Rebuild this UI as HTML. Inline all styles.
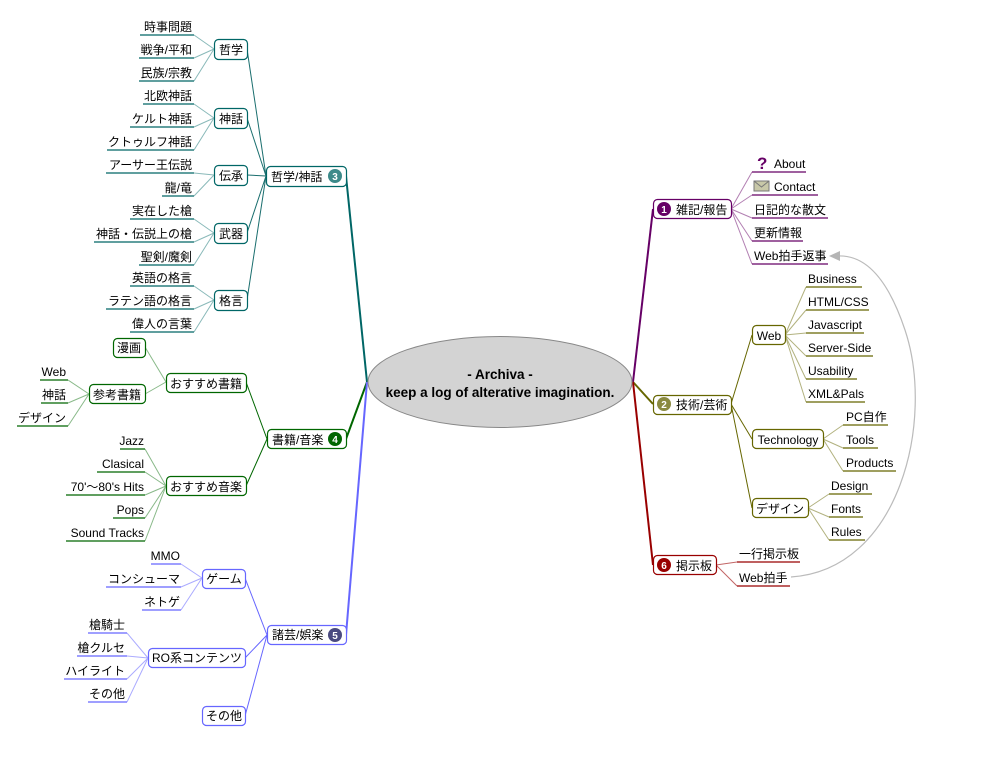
<!DOCTYPE html>
<html><head><meta charset="utf-8"><style>
html,body{margin:0;padding:0;background:#fff;}
svg{display:block;}
text{font-family:"Liberation Sans","Noto Sans CJK JP",sans-serif;font-size:12px;fill:#000;}
</style></head><body>
<svg width="999" height="764" viewBox="0 0 999 764" xmlns="http://www.w3.org/2000/svg">
<g fill="none" stroke-width="2">
<path d="M346 176 L367 382" stroke="#006666"/>
<path d="M346 439 L367 382" stroke="#006600"/>
<path d="M346 635 L367 382" stroke="#6666ff"/>
<path d="M653 209 L633 382" stroke="#660066"/>
<path d="M653 404 L633 382" stroke="#666600"/>
<path d="M653 565 L633 382" stroke="#990000"/>
</g>
<g stroke="#1a6e6e" stroke-width="1" fill="none">
<path d="M266 176 L247 49 M266 176 L247 118 M266 176 L247 175 M266 176 L247 233 M266 176 L247 300"/>
</g>
<g stroke="#2a8080" stroke-width="1" fill="none" opacity="0.55">
<path d="M214 49 L194 35 M214 49 L194 58 M214 49 L194 81"/>
<path d="M214 118 L194 104 M214 118 L194 127 M214 118 L194 150"/>
<path d="M214 175 L194 173 M214 175 L194 196"/>
<path d="M214 233 L194 219 M214 233 L194 242 M214 233 L194 265"/>
<path d="M214 300 L194 286 M214 300 L194 309 M214 300 L194 332"/>
</g>
<g stroke="#006666" stroke-width="1.3">
<line x1="140" y1="35" x2="194" y2="35"/><line x1="139" y1="58" x2="194" y2="58"/><line x1="139" y1="81" x2="194" y2="81"/>
<line x1="143" y1="104" x2="194" y2="104"/><line x1="130" y1="127" x2="194" y2="127"/><line x1="107" y1="150" x2="194" y2="150"/>
<line x1="106" y1="173" x2="194" y2="173"/><line x1="162" y1="196" x2="194" y2="196"/>
<line x1="130" y1="219" x2="194" y2="219"/><line x1="94" y1="242" x2="194" y2="242"/><line x1="139" y1="265" x2="194" y2="265"/>
<line x1="130" y1="286" x2="194" y2="286"/><line x1="106" y1="309" x2="194" y2="309"/><line x1="130" y1="332" x2="194" y2="332"/>
</g>
<g text-anchor="end">
<text x="192" y="31">時事問題</text><text x="192" y="54">戦争/平和</text><text x="192" y="77">民族/宗教</text>
<text x="192" y="100">北欧神話</text><text x="192" y="123">ケルト神話</text><text x="192" y="146">クトゥルフ神話</text>
<text x="192" y="169">アーサー王伝説</text><text x="192" y="192">龍/竜</text>
<text x="192" y="215">実在した槍</text><text x="192" y="238">神話・伝説上の槍</text><text x="192" y="261">聖剣/魔剣</text>
<text x="192" y="282">英語の格言</text><text x="192" y="305">ラテン語の格言</text><text x="192" y="328">偉人の言葉</text>
</g>
<g fill="#fff" stroke="#006666" stroke-width="1.2">
<rect x="214.5" y="39.5" width="33" height="20" rx="4"/>
<rect x="214.5" y="108.5" width="33" height="20" rx="4"/>
<rect x="214.5" y="165.5" width="33" height="20" rx="4"/>
<rect x="214.5" y="223.5" width="33" height="20" rx="4"/>
<rect x="214.5" y="290.5" width="33" height="20" rx="4"/>
<rect x="266.5" y="166.5" width="80" height="20" rx="4"/>
</g>
<g text-anchor="middle">
<text x="231" y="54">哲学</text><text x="231" y="123">神話</text><text x="231" y="180">伝承</text><text x="231" y="238">武器</text><text x="231" y="305">格言</text>
</g>
<text x="271" y="181">哲学/神話</text>
<circle cx="335" cy="176" r="7" fill="#3d8a8a"/><text x="335" y="180" text-anchor="middle" style="font-size:10px;font-weight:bold;fill:#fff">3</text>

<g stroke="#006600" stroke-width="1" fill="none">
<path d="M267 439 L246 382 M267 439 L246 486"/>
</g>
<g stroke="#3a8a3a" stroke-width="1" fill="none" opacity="0.6">
<path d="M166 382 L145 347 M166 382 L145 394"/>
<path d="M89 394 L68 380 M89 394 L68 403 M89 394 L68 426"/>
<path d="M166 486 L145 449 M166 486 L145 472 M166 486 L145 495 M166 486 L145 518 M166 486 L145 541"/>
</g>
<g stroke="#006600" stroke-width="1.3">
<line x1="40" y1="380" x2="68" y2="380"/><line x1="41" y1="403" x2="68" y2="403"/><line x1="17" y1="426" x2="68" y2="426"/>
<line x1="120" y1="449" x2="145" y2="449"/><line x1="97" y1="472" x2="145" y2="472"/><line x1="66" y1="495" x2="145" y2="495"/><line x1="113" y1="518" x2="145" y2="518"/><line x1="66" y1="541" x2="145" y2="541"/>
</g>
<g text-anchor="end">
<text x="66" y="376">Web</text><text x="66" y="399">神話</text><text x="66" y="422">デザイン</text>
<text x="144" y="445">Jazz</text><text x="144" y="468">Clasical</text><text x="144" y="491">70'〜80's Hits</text><text x="144" y="514">Pops</text><text x="144" y="537">Sound Tracks</text>
</g>
<g fill="#fff" stroke="#006600" stroke-width="1.2">
<rect x="113.5" y="338.5" width="32" height="19" rx="4"/>
<rect x="89.5" y="384.5" width="56" height="19" rx="4"/>
<rect x="166.5" y="373.5" width="80" height="19" rx="4"/>
<rect x="166.5" y="476.5" width="80" height="19" rx="4"/>
<rect x="267.5" y="429.5" width="79" height="19" rx="4"/>
</g>
<text x="129" y="352" text-anchor="middle">漫画</text>
<text x="117" y="399" text-anchor="middle">参考書籍</text>
<text x="206" y="388" text-anchor="middle">おすすめ書籍</text>
<text x="206" y="491" text-anchor="middle">おすすめ音楽</text>
<text x="272" y="444">書籍/音楽</text>
<circle cx="335" cy="439" r="7" fill="#006600"/><text x="335" y="443" text-anchor="middle" style="font-size:10px;font-weight:bold;fill:#fff">4</text>

<g stroke="#6666ff" stroke-width="1" fill="none">
<path d="M267 635 L245 578 M267 635 L245 658 M267 635 L245 716"/>
</g>
<g stroke="#6666ff" stroke-width="1" fill="none" opacity="0.55">
<path d="M202 578 L181 564 M202 578 L181 587 M202 578 L181 610"/>
<path d="M148 658 L127 633 M148 658 L127 656 M148 658 L127 679 M148 658 L127 702"/>
</g>
<g stroke="#6666ff" stroke-width="1.3">
<line x1="151" y1="564" x2="181" y2="564"/><line x1="106" y1="587" x2="181" y2="587"/><line x1="142" y1="610" x2="181" y2="610"/>
<line x1="88" y1="633" x2="127" y2="633"/><line x1="77" y1="656" x2="127" y2="656"/><line x1="64" y1="679" x2="127" y2="679"/><line x1="88" y1="702" x2="127" y2="702"/>
</g>
<g text-anchor="end">
<text x="180" y="560">MMO</text><text x="180" y="583">コンシューマ</text><text x="180" y="606">ネトゲ</text>
<text x="125" y="629">槍騎士</text><text x="125" y="652">槍クルセ</text><text x="125" y="675">ハイライト</text><text x="125" y="698">その他</text>
</g>
<g fill="#fff" stroke="#6666ff" stroke-width="1.2">
<rect x="202.5" y="569.5" width="43" height="19" rx="4"/>
<rect x="148.5" y="648.5" width="97" height="19" rx="4"/>
<rect x="202.5" y="706.5" width="43" height="19" rx="4"/>
<rect x="267.5" y="625.5" width="79" height="19" rx="4"/>
</g>
<text x="224" y="583" text-anchor="middle">ゲーム</text>
<text x="197" y="662" text-anchor="middle">RO系コンテンツ</text>
<text x="224" y="720" text-anchor="middle">その他</text>
<text x="272" y="639">諸芸/娯楽</text>
<circle cx="335" cy="635" r="7" fill="#4a4a80"/><text x="335" y="639" text-anchor="middle" style="font-size:10px;font-weight:bold;fill:#fff">5</text>

<ellipse cx="500" cy="382" rx="132" ry="45.5" fill="#d3d3d3" stroke="#888" stroke-width="1"/>
<text x="500" y="379" text-anchor="middle" style="font-weight:bold;font-size:13.5px">- Archiva -</text>
<text x="500" y="397" text-anchor="middle" style="font-weight:bold;font-size:13.5px">keep a log of alterative imagination.</text>

<g stroke="#660066" stroke-width="1" fill="none" opacity="0.5">
<path d="M731 209 L752 172 M731 209 L752 195 M731 209 L752 218 M731 209 L752 241 M731 209 L752 264"/>
</g>
<g stroke="#660066" stroke-width="1.3">
<line x1="752" y1="172" x2="806" y2="172"/><line x1="752" y1="195" x2="818" y2="195"/><line x1="752" y1="218" x2="828" y2="218"/><line x1="752" y1="241" x2="803" y2="241"/><line x1="752" y1="264" x2="828" y2="264"/>
</g>
<text x="757" y="169" style="font-size:17px;font-weight:bold;fill:#660066">?</text>
<text x="774" y="168">About</text>
<rect x="754" y="181" width="15" height="10" fill="#c8c8a8" stroke="#777" stroke-width="1"/>
<path d="M754 181 L761.5 187 L769 181" fill="none" stroke="#777"/>
<text x="774" y="191">Contact</text>
<text x="754" y="214">日記的な散文</text>
<text x="754" y="237">更新情報</text>
<text x="754" y="260">Web拍手返事</text>
<rect x="653.5" y="199.5" width="78" height="19" rx="4" fill="#fff" stroke="#660066" stroke-width="1.2"/>
<circle cx="664" cy="209" r="7" fill="#660066"/><text x="664" y="213" text-anchor="middle" style="font-size:10px;font-weight:bold;fill:#fff">1</text>
<text x="676" y="214">雑記/報告</text>

<g stroke="#666600" stroke-width="1" fill="none">
<path d="M731 404 L752 335 M731 404 L752 439 M731 404 L752 508"/>
</g>
<g stroke="#666600" stroke-width="1" fill="none" opacity="0.5">
<path d="M785 335 L806 287 M785 335 L806 310 M785 335 L806 333 M785 335 L806 356 M785 335 L806 379 M785 335 L806 402"/>
<path d="M823 439 L843 425 M823 439 L843 448 M823 439 L843 471"/>
<path d="M808 508 L829 494 M808 508 L829 517 M808 508 L829 540"/>
</g>
<g stroke="#666600" stroke-width="1.3">
<line x1="806" y1="287" x2="862" y2="287"/><line x1="806" y1="310" x2="869" y2="310"/><line x1="806" y1="333" x2="864" y2="333"/><line x1="806" y1="356" x2="873" y2="356"/><line x1="806" y1="379" x2="857" y2="379"/><line x1="806" y1="402" x2="865" y2="402"/>
<line x1="843" y1="425" x2="888" y2="425"/><line x1="843" y1="448" x2="878" y2="448"/><line x1="843" y1="471" x2="896" y2="471"/>
<line x1="829" y1="494" x2="872" y2="494"/><line x1="829" y1="517" x2="863" y2="517"/><line x1="829" y1="540" x2="865" y2="540"/>
</g>
<text x="808" y="283">Business</text><text x="808" y="306">HTML/CSS</text><text x="808" y="329">Javascript</text><text x="808" y="352">Server-Side</text><text x="808" y="375">Usability</text><text x="808" y="398">XML&amp;Pals</text>
<text x="846" y="421">PC自作</text><text x="846" y="444">Tools</text><text x="846" y="467">Products</text>
<text x="831" y="490">Design</text><text x="831" y="513">Fonts</text><text x="831" y="536">Rules</text>
<g fill="#fff" stroke="#666600" stroke-width="1.2">
<rect x="752.5" y="325.5" width="33" height="19" rx="4"/>
<rect x="752.5" y="429.5" width="71" height="19" rx="4"/>
<rect x="752.5" y="498.5" width="56" height="19" rx="4"/>
<rect x="653.5" y="395.5" width="78" height="19" rx="4"/>
</g>
<text x="769" y="340" text-anchor="middle">Web</text>
<text x="788" y="444" text-anchor="middle">Technology</text>
<text x="780" y="513" text-anchor="middle">デザイン</text>
<circle cx="664" cy="404" r="7" fill="#8a8a40"/><text x="664" y="408" text-anchor="middle" style="font-size:10px;font-weight:bold;fill:#fff">2</text>
<text x="676" y="409">技術/芸術</text>

<g stroke="#990000" stroke-width="1" fill="none" opacity="0.6">
<path d="M716 565 L737 562 M716 565 L737 586"/>
</g>
<g stroke="#990000" stroke-width="1.3">
<line x1="737" y1="562" x2="800" y2="562"/><line x1="737" y1="586" x2="790" y2="586"/>
</g>
<text x="739" y="558">一行掲示板</text>
<text x="739" y="582">Web拍手</text>
<rect x="653.5" y="555.5" width="63" height="19" rx="4" fill="#fff" stroke="#990000" stroke-width="1.2"/>
<circle cx="664" cy="565" r="7" fill="#990000"/><text x="664" y="569" text-anchor="middle" style="font-size:10px;font-weight:bold;fill:#fff">6</text>
<text x="676" y="570">掲示板</text>

<path d="M791 577 C 900 570, 935 420, 905 330 C 885 270, 860 255, 838 256" fill="none" stroke="#bbb" stroke-width="1.2"/>
<path d="M829 256 L840 251 L840 261 Z" fill="#b5b5b5"/>
</svg>
</body></html>
